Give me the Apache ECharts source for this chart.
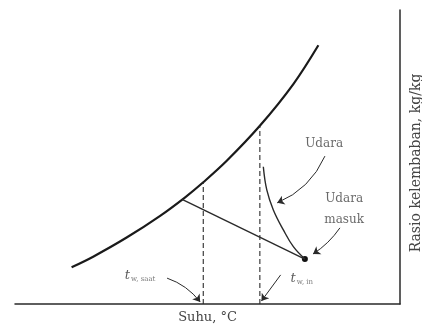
<!DOCTYPE html>
<html>
<head>
<meta charset="utf-8">
<script src="https://cdn.jsdelivr.net/npm/echarts@6/dist/echarts.min.js"></script>
<style>
  html, body { margin: 0; background: #fff; }
  #chart { width: 422px; height: 326px; }
</style>
</head>
<body>
<div id="chart"></div>
<script>
// saturation curve (temperature vs humidity ratio, arbitrary units)
const satX = [14.7, 20.3, 29.0, 37.7, 44.2, 48.9, 55.0, 63.6, 72.3, 78.8];
const satY = [12.5, 16.1, 22.6, 30.0, 36.3, 41.4, 48.7, 60.6, 74.8, 88.0];

// operating line: saturated state -> inlet air
const opX = [43.4, 75.3];
const opY = [35.6, 15.3];

// air path ("Udara")
const airX = [64.5, 65.4, 67.1, 69.7, 72.3, 75.3];
const airY = [46.7, 38.8, 32.0, 25.2, 19.5, 15.3];

// inlet air point
const inlet = [75.3, 15.3];

// dashed drop lines to the temperature axis
const dropSaat = [[48.9, 0], [48.9, 41.4]];
const dropIn = [[63.6, 0], [63.6, 60.6]];

// annotation arrows [from, to, curveness]
const arrows = [
  [[80.5, 50.3], [68.1, 34.4], 0.2],
  [[84.4, 25.9], [77.4, 17.0], 0.1],
  [[39.5, 8.8], [48.1, 0.7], 0.15],
  [[69.0, 9.9], [64.0, 1.0], 0.0]
];

// text labels
const labels = [
  { pos: [80.3, 54.4], text: 'Udara' },
  { pos: [85.5, 32.3], text: 'Udara\nmasuk' },
  { pos: [32.5, 9.5], text: '{t|t}{s|w, saat}' },
  { pos: [74.5, 8.5], text: '{t|t}{s|w, in}' }
];

const xName = 'Suhu, °C';
const yName = 'Rasio kelembaban, kg/kg';

const ink = '#2a2a2a';
const font = 'DejaVu Serif';

const chart = echarts.init(document.getElementById('chart'));

const zip = (xs, ys) => xs.map((x, i) => [x, ys[i]]);

const option = {
  animation: false,
  backgroundColor: '#fff',
  grid: { left: 15, right: 22, top: 10, bottom: 22, outerBoundsMode: 'none', containLabel: false },
  xAxis: {
    type: 'value', min: 0, max: 100,
    axisLine: { show: true, onZero: false, lineStyle: { color: ink, width: 1.5 } },
    axisTick: { show: false },
    axisLabel: { show: false },
    splitLine: { show: false },
    name: xName,
    nameLocation: 'middle',
    nameGap: 7,
    nameTextStyle: { color: '#444', fontFamily: font, fontSize: 13, verticalAlign: 'top' }
  },
  yAxis: {
    type: 'value', min: 0, max: 100,
    position: 'right',
    axisLine: { show: true, onZero: false, lineStyle: { color: ink, width: 1.5 } },
    axisTick: { show: false },
    axisLabel: { show: false },
    splitLine: { show: false },
    name: yName,
    nameLocation: 'middle',
    nameRotate: 90,
    nameGap: 9,
    nameTextStyle: { color: '#444', fontFamily: font, fontSize: 14, padding: [0, 12, 0, 0] }
  },
  series: [
    {
      type: 'line', smooth: 0.35, symbol: 'none',
      data: zip(satX, satY),
      lineStyle: { color: '#1a1a1a', width: 2.2 }
    },
    {
      type: 'line', symbol: 'none',
      data: zip(opX, opY),
      lineStyle: { color: ink, width: 1.4 }
    },
    {
      type: 'line', smooth: 0.4, symbol: 'none',
      data: zip(airX, airY),
      lineStyle: { color: ink, width: 1.4 }
    },
    {
      type: 'line', symbol: 'none', data: dropSaat,
      lineStyle: { color: ink, width: 1.1, type: [5, 3] }
    },
    {
      type: 'line', symbol: 'none', data: dropIn,
      lineStyle: { color: ink, width: 1.1, type: [5, 3] }
    },
    {
      type: 'scatter', data: [inlet], symbolSize: 6,
      itemStyle: { color: '#111', opacity: 1 }
    },
    {
      type: 'lines', coordinateSystem: 'cartesian2d',
      symbol: ['none', 'arrow'], symbolSize: 7,
      lineStyle: { color: ink, width: 1, opacity: 1 },
      data: arrows.map(a => ({ coords: [a[0], a[1]], lineStyle: { curveness: a[2] } }))
    },
    {
      type: 'scatter', symbolSize: 0,
      data: labels.map(l => ({ value: l.pos, name: l.text })),
      label: {
        show: true, position: 'inside',
        formatter: p => p.name,
        color: '#444', fontFamily: font, fontSize: 12, lineHeight: 21, align: 'center',
        rich: {
          t: { fontFamily: font, fontStyle: 'italic', fontSize: 13, color: '#333' },
          s: { fontFamily: font, fontSize: 7, color: '#555', padding: [6, 0, 0, 1] }
        }
      }
    }
  ]
};

chart.setOption(option);
</script>
</body>
</html>
